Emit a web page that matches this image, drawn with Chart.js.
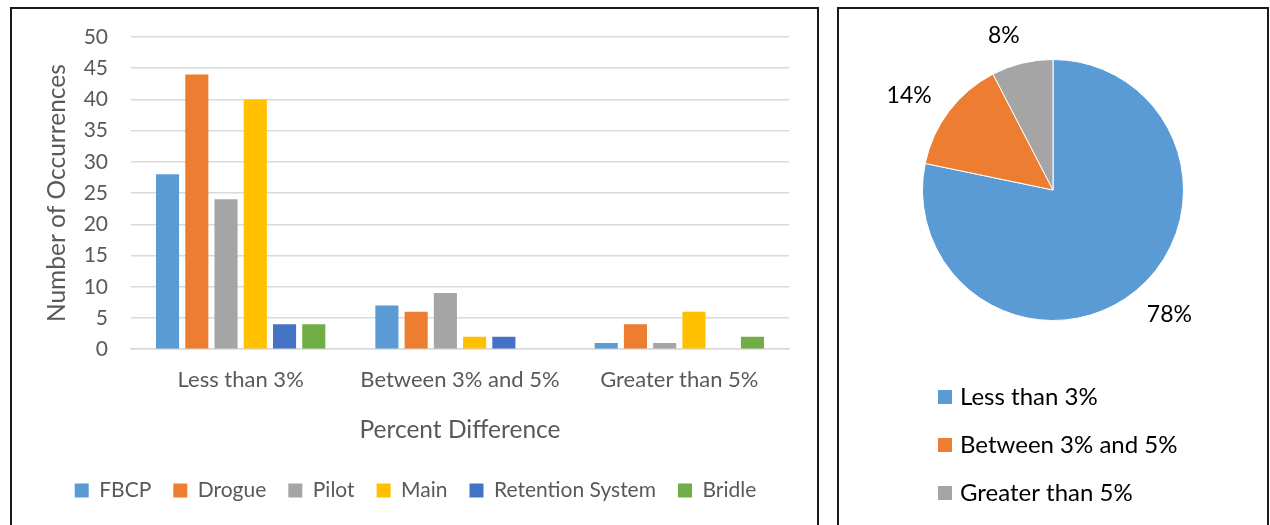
<!DOCTYPE html>
<html>
<head>
<meta charset="utf-8">
<script src="https://cdn.jsdelivr.net/npm/chart.js@4"></script>
<style>
  body { margin: 0; background: #fff; width: 1270px; height: 525px; overflow: hidden; position: relative; }
  .panel { position: absolute; top: 7px; height: 540px; border: 2px solid #1a1a1a; box-sizing: border-box; background: #fff; }
  #leftPanel { left: 10px; width: 809px; }
  #rightPanel { left: 837px; width: 432px; }
  canvas { position: absolute; left: 0; top: 0; }
</style>
</head>
<body>
<div class="panel" id="leftPanel"><canvas id="barCanvas" width="805" height="516"></canvas></div>
<div class="panel" id="rightPanel"><canvas id="pieCanvas" width="428" height="516"></canvas></div>
<script>
const categories = ['Less than 3%', 'Between 3% and 5%', 'Greater than 5%'];
const seriesNames = ['FBCP', 'Drogue', 'Pilot', 'Main', 'Retention System', 'Bridle'];
const fbcp = [28, 7, 1];
const drogue = [44, 6, 4];
const pilot = [24, 9, 1];
const mainChute = [40, 2, 6];
const retention = [4, 2, 0];
const bridle = [4, 0, 2];
const pieValues = [144, 26, 14];

const colours = ['#5B9BD5', '#ED7D31', '#A5A5A5', '#FFC000', '#4472C4', '#70AD47'];
const textGrey = '#595959';
const fontFamily = 'Lato';

const series = [fbcp, drogue, pilot, mainChute, retention, bridle];

new Chart(document.getElementById('barCanvas'), {
  type: 'bar',
  data: {
    labels: categories,
    datasets: series.map((values, i) => ({
      label: seriesNames[i],
      data: values,
      backgroundColor: colours[i],
      categoryPercentage: 0.8,
      barPercentage: 0.79
    }))
  },
  options: {
    responsive: false,
    animation: false,
    layout: { padding: { left: 30, right: 28, top: 28, bottom: 14 } },
    scales: {
      x: {
        grid: { display: false, drawTicks: false },
        border: { color: '#d9d9d9', width: 1.5 },
        ticks: { color: textGrey, font: { family: fontFamily, size: 22 }, padding: 18 },
        title: {
          display: true,
          text: 'Percent Difference',
          color: textGrey,
          font: { family: fontFamily, size: 24.5 },
          padding: { top: 4, bottom: 13 }
        }
      },
      y: {
        min: 0,
        max: 50,
        afterFit(scale) {
          scale.width = 89;
          scale.paddingTop = 13;
        },
        ticks: { stepSize: 5, color: textGrey, font: { family: fontFamily, size: 21 }, padding: 23 },
        grid: { color: '#d9d9d9', lineWidth: 1.5, drawTicks: false },
        border: { display: false },
        title: {
          display: true,
          text: 'Number of Occurrences',
          color: textGrey,
          font: { family: fontFamily, size: 24.5 },
          padding: { top: 0, bottom: 0 }
        }
      }
    },
    plugins: {
      legend: {
        position: 'bottom',
        labels: {
          boxWidth: 14,
          boxHeight: 14,
          padding: 22,
          color: textGrey,
          font: { family: fontFamily, size: 21 }
        }
      },
      tooltip: { enabled: false }
    }
  }
});

// percent labels round the pie and the legend list underneath it
const pieExtras = {
  id: 'pieExtras',
  afterDraw(chart) {
    const ctx = chart.ctx;
    const meta = chart.getDatasetMeta(0);
    const values = chart.data.datasets[0].data;
    const total = values.reduce((sum, v) => sum + v, 0);
    ctx.save();
    ctx.font = `23px ${fontFamily}`;
    ctx.fillStyle = '#000';
    ctx.textAlign = 'center';
    ctx.textBaseline = 'middle';
    meta.data.forEach((arc, i) => {
      const text = `${Math.round((values[i] / total) * 100)}%`;
      const angle = (arc.startAngle + arc.endAngle) / 2 - Math.PI / 45;
      const halfW = ctx.measureText(text).width / 2;
      const dx = Math.cos(angle);
      const dy = Math.sin(angle);
      const dist = arc.outerRadius + 17 + halfW * Math.abs(dx) + 10 * Math.abs(dy);
      ctx.fillText(text, arc.x + dx * dist, arc.y + dy * dist);
    });

    ctx.font = `24px ${fontFamily}`;
    ctx.textAlign = 'left';
    const legendTop = chart.chartArea.bottom + 76;
    chart.data.labels.forEach((label, i) => {
      const y = legendTop + i * 48;
      ctx.fillStyle = colours[i];
      ctx.fillRect(99, y - 7, 14, 14);
      ctx.fillStyle = '#000';
      ctx.fillText(label, 121, y);
    });
    ctx.restore();
  }
};

new Chart(document.getElementById('pieCanvas'), {
  type: 'pie',
  data: {
    labels: categories,
    datasets: [{
      data: pieValues,
      backgroundColor: colours.slice(0, 3),
      borderColor: '#fff',
      borderWidth: 1
    }]
  },
  options: {
    responsive: false,
    animation: false,
    layout: { padding: { top: 50, bottom: 204 } },
    plugins: { legend: { display: false }, tooltip: { enabled: false } }
  },
  plugins: [pieExtras]
});
</script>
</body>
</html>
